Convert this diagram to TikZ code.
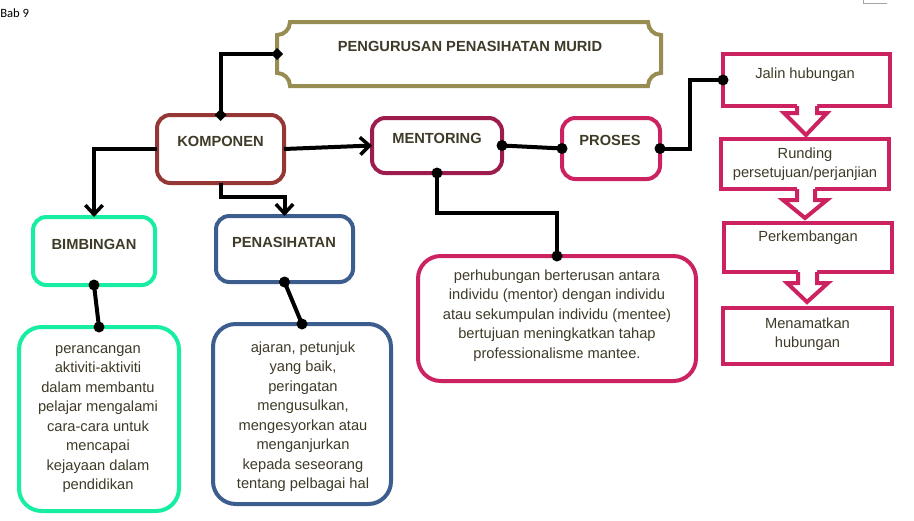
\documentclass[tikz,border=0pt]{standalone}
\usepackage{fontspec}
\setmainfont{Liberation Sans}
\newfontfamily\calibrifont{Carlito}
\usetikzlibrary{arrows.meta,calc}
\definecolor{txt}{HTML}{3F3B28}
\definecolor{olive}{HTML}{978C52}
\definecolor{brick}{HTML}{953735}
\definecolor{wine}{HTML}{9E1B4D}
\definecolor{pinkred}{HTML}{CC2262}
\definecolor{mint}{HTML}{18EEA2}
\definecolor{steel}{HTML}{3C5E8E}
\def\px{0.75pt}
\tikzset{
  rbox/.style={draw=#1, line width=3pt, rounded corners=10pt, fill=white, inner sep=0pt, outer sep=0pt},
  dbox/.style={draw=#1, line width=3pt, rounded corners=17pt, fill=white, inner sep=0pt, outer sep=0pt},
  sbox/.style={draw=#1, line width=3pt, fill=white, inner sep=0pt, outer sep=0pt},
  conn/.style={line width=3pt, black, line join=miter},
  arr/.style={conn, -{Straight Barb[length=7pt,width=13pt,line width=2.6pt]}},
  head/.style={font=\bfseries\fontsize{11}{13}\selectfont, text=txt, inner sep=0pt, anchor=base},
  plain/.style={font=\fontsize{11}{14.6}\selectfont, text=txt, inner sep=0pt, anchor=base},
  body/.style={font=\fontsize{11}{14.6}\selectfont, text=txt, align=center, inner sep=0pt, anchor=north},
  barrow/.style={draw=pinkred, line width=3pt, fill=white, line join=miter},
}
\newcommand\dotmark[1]{\fill[black] (#1) circle (5.5);}
\newcommand\diamark[1]{\fill[black] (#1) +(-6,0) -- +(0,-6) -- +(6,0) -- +(0,6) -- cycle;}
\begin{document}
\begin{tikzpicture}[x=0.75pt,y=-0.75pt]
\useasboundingbox (0,0) rectangle (914,521);

% small marks
\node[font=\calibrifont\fontsize{9.5}{11}\selectfont, anchor=base west, inner sep=0pt] (bab) at (0,17) {Bab 9};
\draw[gray!70, line width=0.75pt] (863,0) -- (863,3) -- (887,3);

% title plaque
\draw[olive, line width=3pt, fill=white]
  (290,22) -- (648,22) .. controls (648,29.2) and (653.8,35) .. (661,35)
  -- (661,73) .. controls (653.8,73) and (648,78.8) .. (648,86)
  -- (290,86) .. controls (290,78.8) and (284.2,73) .. (277,73)
  -- (277,35) .. controls (284.2,35) and (290,29.2) .. (290,22) -- cycle;
\node[minimum width=384*\px, minimum height=64*\px, inner sep=0pt, outer sep=0pt] (tbox) at (469,54) {};
\node[head] (title) at (470,51) {PENGURUSAN PENASIHATAN MURID};

% main boxes
\node[rbox=brick, minimum width=127*\px, minimum height=68*\px] (komp) at (220.5,149) {};
\node[head] (kompt) at (220.5,146) {KOMPONEN};

\node[rbox=wine, minimum width=130*\px, minimum height=55*\px] (ment) at (437,145.5) {};
\node[head] (mentt) at (437,143) {MENTORING};

\node[rbox=pinkred, minimum width=98*\px, minimum height=61*\px] (pros) at (611,148.5) {};
\node[head] (prost) at (610,145) {PROSES};

\node[rbox=mint, minimum width=122*\px, minimum height=68*\px] (bimb) at (94,251) {};
\node[head] (bimbt) at (94,249) {BIMBINGAN};

\node[rbox=steel, minimum width=137*\px, minimum height=66*\px] (pen) at (284.5,249) {};
\node[head] (pent) at (284,247) {PENASIHATAN};

% description boxes
\node[dbox=mint, minimum width=160*\px, minimum height=184*\px] (bdesc) at (99,419) {};
\node[body] (bdesct) at (98,339.5) {\strut perancangan\\aktiviti-aktiviti\\dalam membantu\\pelajar mengalami\\cara-cara untuk\\mencapai\\kejayaan dalam\\pendidikan};

\node[dbox=steel, minimum width=178*\px, minimum height=180*\px] (pdesc) at (302,414) {};
\node[body] (pdesct) at (303,338.5) {\strut ajaran, petunjuk\\yang baik,\\peringatan\\mengusulkan,\\mengesyorkan atau\\menganjurkan\\kepada seseorang\\tentang pelbagai hal};

\node[dbox=pinkred, minimum width=278*\px, minimum height=125*\px] (mdesc) at (557,318.5) {};
\node[body] (mdesct) at (557,266.5) {\strut perhubungan berterusan antara\\individu (mentor) dengan individu\\atau sekumpulan individu (mentee)\\bertujuan meningkatkan tahap\\professionalisme mantee.};

% process boxes
\node[sbox=pinkred, minimum width=167*\px, minimum height=52*\px] (jalin) at (806.5,80) {};
\node[plain] (jalint) at (805,78) {Jalin hubungan};

\node[sbox=pinkred, minimum width=168*\px, minimum height=50*\px] (rund) at (805,164) {};
\node[body] (rundt) at (805,144.5) {\strut Runding\\persetujuan/perjanjian};

\node[sbox=pinkred, minimum width=168*\px, minimum height=49*\px] (perk) at (808,247.5) {};
\node[plain] (perkt) at (808,241) {Perkembangan};

\node[sbox=pinkred, minimum width=169*\px, minimum height=56*\px] (tamat) at (807.5,336) {};
\node[body] (tamatt) at (807.5,314.5) {\strut Menamatkan\\hubungan};

% block arrows between process boxes
\fill[white] (797,104) -- (797,113) -- (784,113) -- (806,135) -- (827,113) -- (817,113) -- (817,104) -- cycle;
\draw[barrow, fill=none] (797,106) -- (797,113) -- (784,113) -- (806,135) -- (827,113) -- (817,113) -- (817,106);
\fill[white] (797,187) -- (797,200) -- (783,200) -- (805,218) -- (827,200) -- (815,200) -- (815,187) -- cycle;
\draw[barrow, fill=none] (797,189) -- (797,200) -- (783,200) -- (805,218) -- (827,200) -- (815,200) -- (815,189);
\fill[white] (798,270) -- (798,283) -- (787,283) -- (807,302) -- (828,283) -- (817,283) -- (817,270) -- cycle;
\draw[barrow, fill=none] (798,272) -- (798,283) -- (787,283) -- (807,302) -- (828,283) -- (817,283) -- (817,272);

% connectors
\draw[conn] (komp.north) |- (tbox.west);
\diamark{komp.north}
\diamark{tbox.west}

\draw[arr] (komp.east) -- (ment.west);
\draw[arr] (komp.west) -| (bimb.north);
\draw[arr] (komp.south) -- ++(0,14) -| (pen.north);

\draw[conn] (ment.east) -- (pros.west);
\dotmark{ment.east}
\dotmark{pros.west}

\draw[conn] (pros.east) -- ++(30,0) |- (jalin.west);
\dotmark{pros.east}
\dotmark{jalin.west}

\draw[conn] (ment.south) -- ++(0,40) -| (mdesc.north);
\dotmark{ment.south}
\dotmark{mdesc.north}

\draw[conn] (bimb.south) -- (bdesc.north);
\dotmark{bimb.south}
\dotmark{bdesc.north}

\draw[conn] (pen.south) -- (pdesc.north);
\dotmark{pen.south}
\dotmark{pdesc.north}
\end{tikzpicture}
\end{document}
